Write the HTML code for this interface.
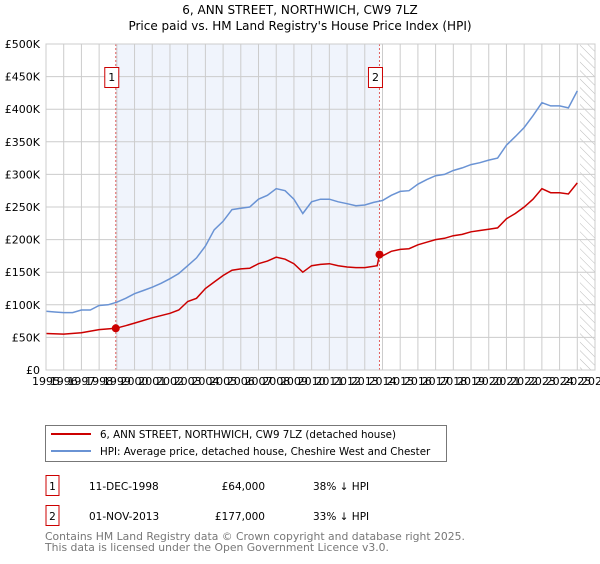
<!DOCTYPE html>
<html><head><meta charset="utf-8"><style>
body{margin:0;background:#fff;font-family:"DejaVu Sans","Liberation Sans",sans-serif;}
svg text{font-family:"DejaVu Sans","Liberation Sans",sans-serif;}
</style></head><body>
<svg id="c" width="600" height="560" viewBox="0 0 600 560">
<defs><pattern id="hatch" width="6" height="6" patternUnits="userSpaceOnUse" patternTransform="rotate(-45)"><line x1="0" y1="0" x2="0" y2="6" stroke="#bbb" stroke-width="1"/></pattern></defs>
<text x="300" y="14" text-anchor="middle" font-size="12">6, ANN STREET, NORTHWICH, CW9 7LZ</text>
<text x="300" y="30" text-anchor="middle" font-size="12">Price paid vs. HM Land Registry's House Price Index (HPI)</text>
<g id="plot"></g>
<g>
<rect x="45.5" y="425.5" width="401" height="36" fill="#fff" stroke="#777"/>
<line x1="51" y1="434" x2="91" y2="434" stroke="#cc0000" stroke-width="2"/>
<text x="100" y="438" font-size="10.3">6, ANN STREET, NORTHWICH, CW9 7LZ (detached house)</text>
<line x1="51" y1="451" x2="91" y2="451" stroke="#6a93d4" stroke-width="2"/>
<text x="100" y="455" font-size="10.3">HPI: Average price, detached house, Cheshire West and Chester</text>
</g>
<g font-size="10.5">
<rect x="46" y="475.5" width="13" height="20" fill="#fff" stroke="#cc0000"/><text x="52.5" y="490" text-anchor="middle">1</text>
<text x="89" y="490">11-DEC-1998</text><text x="265" y="490" text-anchor="end">£64,000</text><text x="313" y="490">38% ↓ HPI</text>
<rect x="46" y="505.5" width="13" height="20" fill="#fff" stroke="#cc0000"/><text x="52.5" y="520" text-anchor="middle">2</text>
<text x="89" y="520">01-NOV-2013</text><text x="265" y="520" text-anchor="end">£177,000</text><text x="313" y="520">33% ↓ HPI</text>
</g>
<text x="45" y="540" font-size="10.8" fill="#777">Contains HM Land Registry data © Crown copyright and database right 2025.</text>
<text x="45" y="551" font-size="10.8" fill="#777">This data is licensed under the Open Government Licence v3.0.</text>
</svg>
<script>
const hpiYears=[1995,1995.5,1996,1996.5,1997,1997.5,1998,1998.5,1999,1999.5,2000,2000.5,2001,2001.5,2002,2002.5,2003,2003.5,2004,2004.5,2005,2005.5,2006,2006.5,2007,2007.5,2008,2008.5,2009,2009.5,2010,2010.5,2011,2011.5,2012,2012.5,2013,2013.5,2014,2014.5,2015,2015.5,2016,2016.5,2017,2017.5,2018,2018.5,2019,2019.5,2020,2020.5,2021,2021.5,2022,2022.5,2023,2023.5,2024,2024.5,2025];
const hpiValues=[90,89,88,88,92,92,99,100,104,110,117,122,127,133,140,148,160,172,190,215,228,246,248,250,262,268,278,275,262,240,258,262,262,258,255,252,253,257,260,268,274,275,285,292,298,300,306,310,315,318,322,325,345,358,372,390,410,405,405,402,428];
const ppYears=[1995,1996,1997,1998,1998.94,1999.5,2000,2001,2002,2002.5,2003,2003.5,2004,2004.5,2005,2005.5,2006,2006.5,2007,2007.5,2008,2008.5,2009,2009.5,2010,2010.5,2011,2011.5,2012,2012.5,2013,2013.7,2013.83,2014,2014.5,2015,2015.5,2016,2016.5,2017,2017.5,2018,2018.5,2019,2019.5,2020,2020.5,2021,2021.5,2022,2022.5,2023,2023.5,2024,2024.5,2025];
const ppValues=[56,55,57,62,64,68,72,80,87,92,105,110,125,135,145,153,155,156,163,167,173,170,163,150,160,162,163,160,158,157,157,160,177,175,182,185,186,192,196,200,202,206,208,212,214,216,218,232,240,250,262,278,272,272,270,287];
const saleYears=[1998.94,2013.83];
const saleValues=[64,177];
const saleLabels=["1","2"];
const yTicks=[0,50,100,150,200,250,300,350,400,450,500];
const yTickLabels=["£0","£50K","£100K","£150K","£200K","£250K","£300K","£350K","£400K","£450K","£500K"];
const xTicks=[];for(let y=1995;y<=2026;y++)xTicks.push(y);
const hatchStart=2025.15;

const X0=46,X1=595,Y0=370,Y1=44;
const xs=y=>X0+(y-1995)/(2026-1995)*(X1-X0);
const ys=v=>Y0-v/500*(Y0-Y1);
const NS="http://www.w3.org/2000/svg";
const g=document.getElementById('plot');
function mk(t,a,p){const e=document.createElementNS(NS,t);for(const k in a)e.setAttribute(k,a[k]);(p||g).appendChild(e);return e;}
let e=mk('rect',{x:xs(saleYears[0]),y:Y1,width:xs(saleYears[1])-xs(saleYears[0]),height:Y0-Y1,fill:'#f0f4fc'});


e=mk('rect',{x:xs(hatchStart),y:Y1,width:X1-xs(hatchStart),height:Y0-Y1,fill:'url(#hatch)'});


xTicks.forEach(t=>{
 e=mk('line',{x1:xs(t),x2:xs(t),y1:Y1,y2:Y0,stroke:'#ccc','stroke-width':1});
 
 
 e=mk('text',{x:xs(t),y:385,'font-size':11,'text-anchor':'middle'});
 e.textContent=t;
 
 
});
yTicks.forEach((t,i)=>{
 e=mk('line',{x1:X0,x2:X1,y1:ys(t),y2:ys(t),stroke:'#ccc','stroke-width':1});
 
 
 e=mk('text',{x:X0-6,y:ys(t)+4,'font-size':11,'text-anchor':'end'});
 e.textContent=yTickLabels[i];
 
 
});
function path(xa,va){return xa.map((y,i)=>(i?'L':'M')+xs(y).toFixed(1)+','+ys(va[i]).toFixed(1)).join('');}
saleYears.forEach((s,i)=>{
 e=mk('line',{x1:xs(s),x2:xs(s),y1:Y1,y2:Y0,stroke:'#e06060','stroke-width':1,'stroke-dasharray':'2,2'});
 
 
 e=mk('rect',{x:xs(s)-11,y:67.5,width:14,height:20,fill:'#fff',stroke:'#cc0000'});
 
 
 e=mk('text',{x:xs(s)-4,y:81,'font-size':11,'text-anchor':'middle'});
 e.textContent=saleLabels[i];
 
 
});
e=mk('path',{d:path(hpiYears,hpiValues),fill:'none',stroke:'#6a93d4','stroke-width':1.5});


e=mk('path',{d:path(ppYears,ppValues),fill:'none',stroke:'#cc0000','stroke-width':1.5});


saleYears.forEach((s,i)=>{
 e=mk('circle',{cx:xs(s),cy:ys(saleValues[i]),r:4,fill:'#cc0000'});
 
 
});
e=mk('rect',{x:X0,y:Y1,width:X1-X0,height:Y0-Y1,fill:'none',stroke:'#ccc'});


</script>
</body></html>
